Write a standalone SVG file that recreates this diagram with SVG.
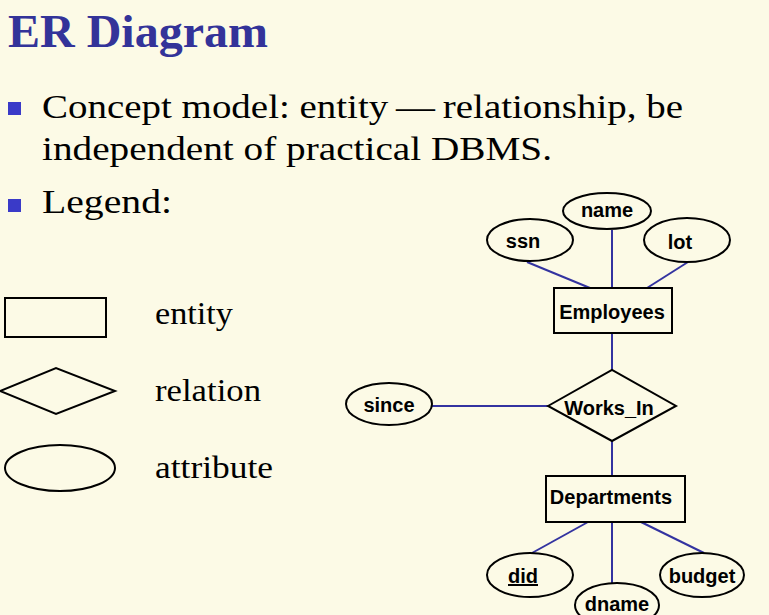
<svg xmlns="http://www.w3.org/2000/svg" width="769" height="615" viewBox="0 0 769 615">
  <style>
    .title { font-family: "Liberation Serif", "DejaVu Serif", serif; font-weight: bold; font-size: 46px; fill: #333399; }
    .body { font-family: "Liberation Serif", "DejaVu Serif", serif; font-size: 34px; fill: #000; }
    .legend { font-family: "Liberation Serif", "DejaVu Serif", serif; font-size: 31px; fill: #000; }
    .shape { fill: none; stroke: #000; stroke-width: 2; }
    .node { fill: #fcfae6; stroke: #000; stroke-width: 2; }
    .label { font-family: "Liberation Sans", Arial, sans-serif; font-weight: bold; font-size: 20px; fill: #000; text-anchor: middle; }
    .edge { stroke: #3333a0; stroke-width: 2; fill: none; }
    .bullet { fill: #3a3ac8; }
  </style>

  <rect width="769" height="615" fill="#fcfae6"/>

  <!-- heading and bullet text -->
  <text class="title" x="8" y="47" textLength="260" lengthAdjust="spacingAndGlyphs">ER Diagram</text>
  <rect class="bullet" x="8" y="102" width="13" height="13"/>
  <text class="body" x="42" y="118" textLength="641" lengthAdjust="spacingAndGlyphs">Concept model: entity&#8201;—&#8201;relationship, be</text>
  <text class="body" x="42" y="160" textLength="510" lengthAdjust="spacingAndGlyphs">independent of practical DBMS.</text>
  <rect class="bullet" x="8" y="199" width="13" height="13"/>
  <text class="body" x="42" y="213" textLength="130" lengthAdjust="spacingAndGlyphs">Legend:</text>

  <!-- legend symbols -->
  <rect class="shape" x="5" y="298" width="101" height="39"/>
  <polygon class="shape" points="0,391 56,368 115,391 56,414"/>
  <ellipse class="shape" cx="60" cy="468" rx="55" ry="23"/>
  <text class="legend" x="155" y="324" textLength="78" lengthAdjust="spacingAndGlyphs">entity</text>
  <text class="legend" x="155" y="401" textLength="106" lengthAdjust="spacingAndGlyphs">relation</text>
  <text class="legend" x="155" y="478" textLength="118" lengthAdjust="spacingAndGlyphs">attribute</text>

  <!-- connectors -->
  <g id="connectors">
    <line class="edge" x1="527" y1="262" x2="590" y2="288"/>
    <line class="edge" x1="612" y1="230" x2="612" y2="288"/>
    <line class="edge" x1="688" y1="262" x2="647" y2="288"/>
    <line class="edge" x1="612" y1="333" x2="612" y2="370"/>
    <line class="edge" x1="432" y1="406" x2="548" y2="406"/>
    <line class="edge" x1="612" y1="441" x2="612" y2="476"/>
    <line class="edge" x1="588" y1="522" x2="532" y2="553"/>
    <line class="edge" x1="612" y1="522" x2="612" y2="583"/>
    <line class="edge" x1="641" y1="522" x2="704" y2="553"/>
  </g>

  <!-- attributes of Employees -->
  <g id="name">
    <ellipse class="node" cx="607" cy="211" rx="44" ry="18"/>
    <text class="label" x="607" y="217">name</text>
  </g>
  <g id="ssn">
    <ellipse class="node" cx="530" cy="240" rx="43" ry="21"/>
    <text class="label" x="523" y="248">ssn</text>
  </g>
  <g id="lot">
    <ellipse class="node" cx="687" cy="240" rx="43" ry="22"/>
    <text class="label" x="680" y="249">lot</text>
  </g>

  <g id="employees">
    <rect class="node" x="554" y="288" width="118" height="45"/>
    <text class="label" x="612" y="319">Employees</text>
  </g>

  <g id="works_in">
    <polygon class="node" points="548,406 612,370 676,406 612,441"/>
    <text class="label" x="609" y="415">Works_In</text>
  </g>

  <g id="since">
    <ellipse class="node" cx="389" cy="404" rx="43" ry="21"/>
    <text class="label" x="389" y="412">since</text>
  </g>

  <g id="departments">
    <rect class="node" x="546" y="476" width="139" height="46"/>
    <text class="label" x="611" y="504">Departments</text>
  </g>

  <!-- attributes of Departments -->
  <g id="did">
    <ellipse class="node" cx="530" cy="575" rx="43" ry="22"/>
    <text class="label" x="523" y="583" text-decoration="underline">did</text>
  </g>
  <g id="budget">
    <ellipse class="node" cx="702" cy="575" rx="42" ry="22"/>
    <text class="label" x="702" y="583">budget</text>
  </g>
  <g id="dname">
    <ellipse class="node" cx="617" cy="605" rx="42" ry="22"/>
    <text class="label" x="617" y="611">dname</text>
  </g>
</svg>
